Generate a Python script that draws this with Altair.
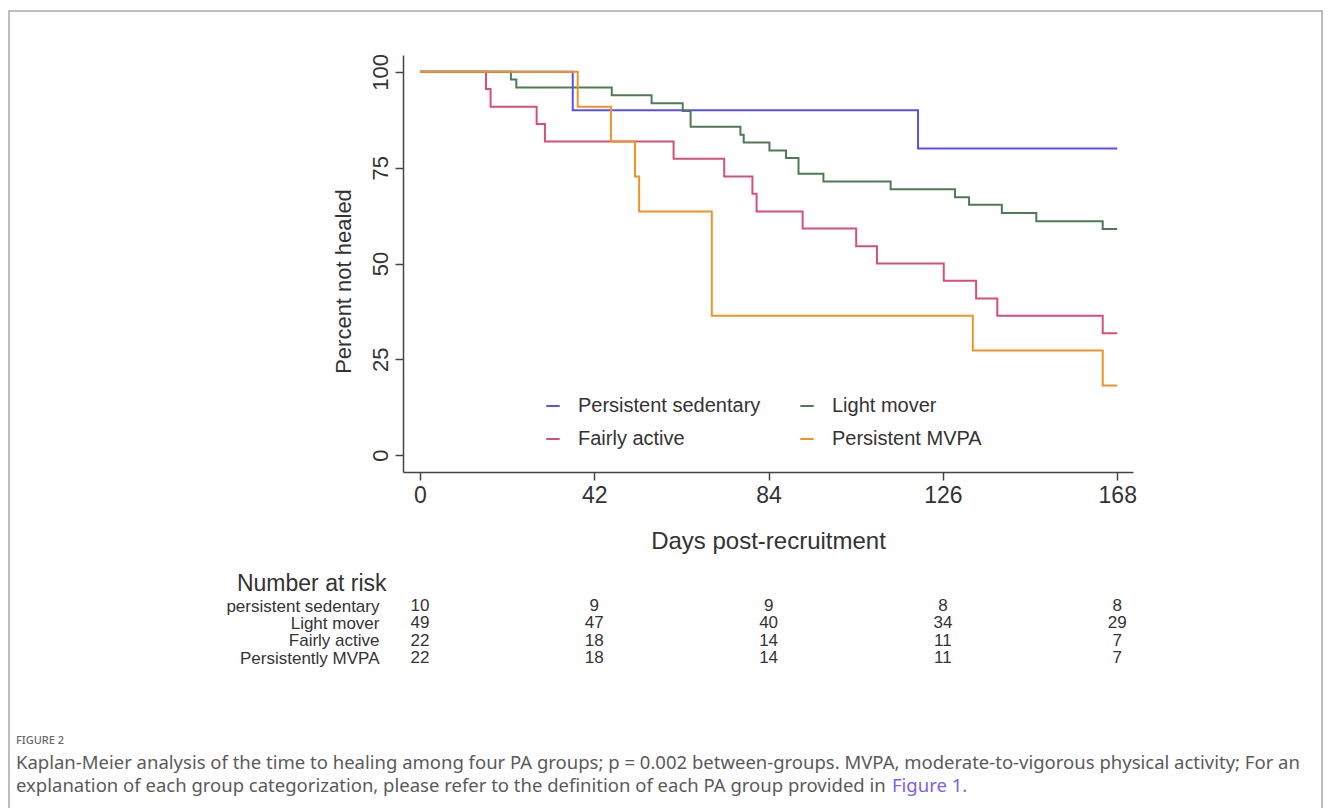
import altair as alt
import pandas as pd

# ---------------- data ----------------
groups = ["Persistent sedentary", "Light mover", "Fairly active", "Persistent MVPA"]
colors = ["#5b50ee", "#4f7a55", "#d4507c", "#ec9526"]

sed_days = [0, 36.8, 120.0, 168]
sed_vals = [100, 90.0, 80.0, 80.0]

light_days = [0, 21.9, 23.2, 46.2, 55.8, 63.3, 65.2, 77.2, 78.0, 84.2, 88.2, 91.2,
              97.2, 113.4, 128.9, 132.3, 140.2, 148.5, 164.5, 168]
light_vals = [100, 98.0, 95.9, 93.9, 91.8, 89.8, 85.7, 83.6, 81.6, 79.5, 77.5, 73.4,
              71.4, 69.4, 67.3, 65.3, 63.2, 61.0, 59.0, 59.0]

fair_days = [0, 15.9, 17.0, 28.1, 30.1, 61.1, 73.3, 80.1, 81.1, 92.2, 105.1, 110.1,
             126.2, 134.0, 139.1, 164.5, 168]
fair_vals = [100, 95.5, 90.9, 86.4, 81.8, 77.3, 72.7, 68.2, 63.6, 59.1, 54.5, 50.0,
             45.5, 40.9, 36.4, 31.8, 31.8]

mvpa_days = [0, 38.0, 46.0, 51.8, 52.8, 70.3, 133.2, 164.5, 168]
mvpa_vals = [100, 90.9, 81.8, 72.7, 63.6, 36.4, 27.3, 18.2, 18.2]

x_ticks = [0, 42, 84, 126, 168]
y_ticks = [0, 25, 50, 75, 100]

risk_labels = ["persistent sedentary", "Light mover", "Fairly active", "Persistently MVPA"]
risk_days = [0, 42, 84, 126, 168]
risk_sed = [10, 9, 9, 8, 8]
risk_light = [49, 47, 40, 34, 29]
risk_fair = [22, 18, 14, 11, 7]
risk_mvpa = [22, 18, 14, 11, 7]

caption_head = "FIGURE 2"
caption_line1 = ("Kaplan-Meier analysis of the time to healing among four PA groups; p = 0.002 "
                 "between-groups. MVPA, moderate-to-vigorous physical activity; For an")
caption_line2 = ("explanation of each group categorization, please refer to the definition of "
                 "each PA group provided in")
caption_link = "Figure 1."

# ---------------- tables ----------------
rows = []
for g, ds, vs in zip(groups, [sed_days, light_days, fair_days, mvpa_days],
                     [sed_vals, light_vals, fair_vals, mvpa_vals]):
    for i, (d, v) in enumerate(zip(ds, vs)):
        rows.append({"group": g, "day": d, "pct": v, "order": i})
km = pd.DataFrame(rows)

risk_rows = []
for lab, counts in zip(risk_labels, [risk_sed, risk_light, risk_fair, risk_mvpa]):
    for d, c in zip(risk_days, counts):
        risk_rows.append({"row": lab, "day": d, "n": c})
risk = pd.DataFrame(risk_rows)

FONT = "Liberation Sans"
CAPFONT = "Noto Sans"
xscale = alt.Scale(domain=[-4.1, 171.8], nice=False, zero=False)
xaxis = alt.Axis(values=x_ticks, title="Days post-recruitment", grid=False,
                 labelFontSize=23, titleFontSize=24, titleFontWeight="normal",
                 tickSize=8, labelPadding=4, titlePadding=22,
                 domainColor="#444", tickColor="#444", labelColor="#333",
                 titleColor="#333", domainWidth=1.5, tickWidth=1.5,
                 labelFont=FONT, titleFont=FONT)

lines = alt.Chart(km).mark_line(interpolate="step-after", strokeWidth=2).encode(
    x=alt.X("day:Q", scale=xscale, axis=xaxis),
    y=alt.Y("pct:Q", scale=alt.Scale(domain=[-4.4, 104.4], nice=False, zero=False),
            axis=alt.Axis(values=y_ticks, title="Percent not healed", grid=False,
                          labelAngle=270, labelAlign="center", labelBaseline="bottom",
                          labelFontSize=22, titleFontSize=22, titleFontWeight="normal",
                          tickSize=8, labelPadding=3, titlePadding=14, titleY=226,
                          domainColor="#444", tickColor="#444", labelColor="#333",
                          titleColor="#333", domainWidth=1.5, tickWidth=1.5,
                          labelFont=FONT, titleFont=FONT)),
    color=alt.Color("group:N", scale=alt.Scale(domain=groups, range=colors),
                    legend=alt.Legend(title=None, orient="none", legendX=140, legendY=341,
                                      columns=2, direction="horizontal",
                                      columnPadding=35, rowPadding=13, labelLimit=400,
                                      symbolType="stroke", symbolStrokeWidth=2,
                                      symbolSize=180, labelFontSize=20, labelOffset=15,
                                      labelFont=FONT, labelColor="#333", padding=0)),
    order="order:Q",
)

table = alt.Chart(risk).mark_text(fontSize=17, font=FONT, color="#333").encode(
    x=alt.X("day:Q", scale=xscale, axis=xaxis),
    y=alt.Y("row:N",
            scale=alt.Scale(type="point", domain=risk_labels, range=[551, 603], padding=0),
            axis=alt.Axis(orient="left", title="Number at risk", domain=False, ticks=False,
                          tickSize=0, labelPadding=24, labelFontSize=17, labelFont=FONT,
                          labelLimit=400, labelColor="#333", titleAngle=0,
                          titleAlign="right", titleBaseline="middle", titleX=-17,
                          titleY=528, titleFontSize=23, titleFontWeight="normal",
                          titleFont=FONT, titleColor="#333", grid=False)),
    text="n:Q",
)

one = pd.DataFrame({"k": [0]})
frame = alt.Chart(one).mark_rect(fill=None, stroke="#bdbdbd", strokeWidth=2).encode(
    x=alt.value(-394), x2=alt.value(919), y=alt.value(-44), y2=alt.value(800))

cap_head = alt.Chart(pd.DataFrame({"t": [caption_head]})).mark_text(
    align="left", baseline="middle", font=CAPFONT, fontSize=11, color="#666",
    fontWeight=500).encode(text="t:N", x=alt.value(-387), y=alt.value(686))
cap1 = alt.Chart(pd.DataFrame({"t": [caption_line1]})).mark_text(
    align="left", baseline="middle", font=CAPFONT, fontSize=18.5, color="#5a5a5a").encode(
    text="t:N", x=alt.value(-387), y=alt.value(708))
cap2 = alt.Chart(pd.DataFrame({"t": [caption_line2]})).mark_text(
    align="left", baseline="middle", font=CAPFONT, fontSize=18.5, color="#5a5a5a").encode(
    text="t:N", x=alt.value(-387), y=alt.value(731))
cap3 = alt.Chart(pd.DataFrame({"t": [caption_link]})).mark_text(
    align="left", baseline="middle", font=CAPFONT, fontSize=18.5, color="#7b61e8").encode(
    text="t:N", x=alt.value(489), y=alt.value(731))

chart = alt.layer(frame, lines, table, cap_head, cap1, cap2, cap3).resolve_scale(
    y="independent"
).properties(
    width=730, height=417,
    autosize=alt.AutoSizeParams(type="none"),
    padding={"left": 395, "top": 47, "right": 190, "bottom": 336},
    background="white",
).configure_view(stroke=None)

chart.save("out.html", embed_options={"renderer": "svg", "actions": False})
